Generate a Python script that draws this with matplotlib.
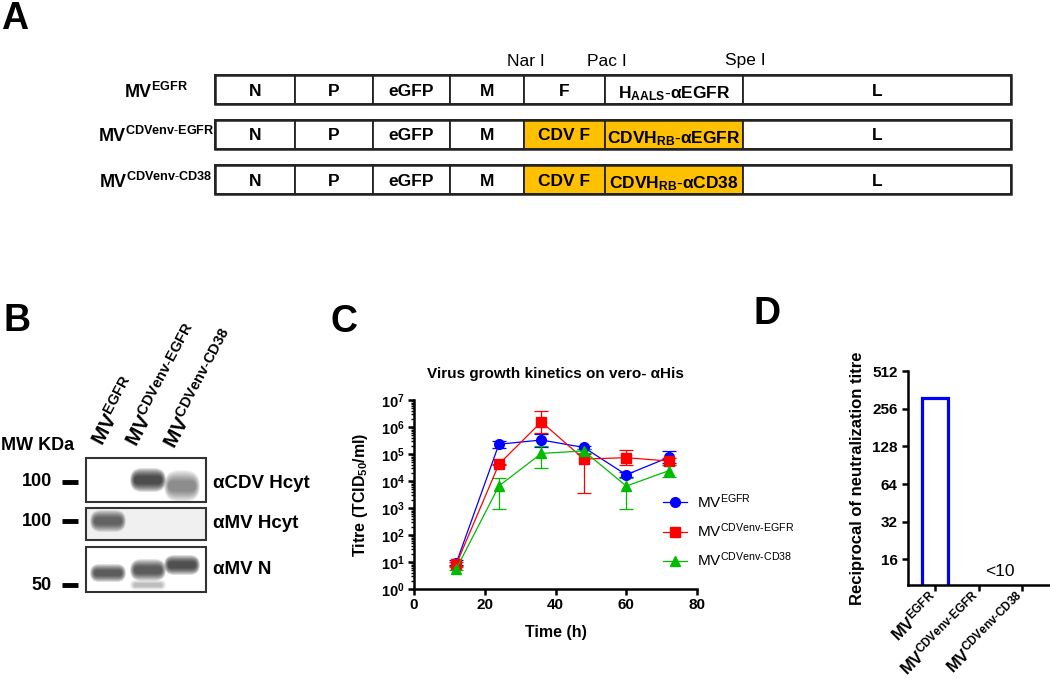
import matplotlib
matplotlib.use('Agg')
import matplotlib.pyplot as plt
from matplotlib.patches import Rectangle, FancyBboxPatch
from matplotlib.lines import Line2D
from matplotlib.ticker import FixedLocator, LogLocator, NullFormatter
import numpy as np

plt.rcParams['font.family'] = ['Liberation Sans', 'DejaVu Sans']
plt.rcParams['mathtext.fontset'] = 'custom'
plt.rcParams['mathtext.rm'] = 'Liberation Sans'
plt.rcParams['mathtext.bf'] = 'Liberation Sans:bold'
plt.rcParams['mathtext.it'] = 'Liberation Sans:italic'

# ---- data ----
# A: genome constructs
construct_names = [r'$\mathbf{MV}^{\mathbf{EGFR}}$',
                   r'$\mathbf{MV}^{\mathbf{CDVenv}\text{-}\mathbf{EGFR}}$',
                   r'$\mathbf{MV}^{\mathbf{CDVenv}\text{-}\mathbf{CD38}}$']
construct_genes = [
    ['N', 'P', 'eGFP', 'M', 'F', r'$\mathbf{H}_{\mathbf{AALS}}\text{-}\mathbf{\alpha EGFR}$', 'L'],
    ['N', 'P', 'eGFP', 'M', 'CDV F', r'$\mathbf{CDVH}_{\mathbf{RB}}\text{-}\mathbf{\alpha EGFR}$', 'L'],
    ['N', 'P', 'eGFP', 'M', 'CDV F', r'$\mathbf{CDVH}_{\mathbf{RB}}\text{-}\mathbf{\alpha CD38}$', 'L'],
]
cdv_env = [False, True, True]
sites = ['Nar I', 'Pac I', 'Spe I']

# B: western blot
lane_names = [r'$\mathbf{MV}^{\mathbf{EGFR}}$',
              r'$\mathbf{MV}^{\mathbf{CDVenv}\text{-}\mathbf{EGFR}}$',
              r'$\mathbf{MV}^{\mathbf{CDVenv}\text{-}\mathbf{CD38}}$']
antibodies = ['\u03b1CDV Hcyt', '\u03b1MV Hcyt', '\u03b1MV N']
mw_marks = ['100', '100', '50']
# (lane, row centre px, darkness, thickness px)
bands = [(1, 480, 1.0, 12), (2, 486, 0.5, 16),
         (0, 521, 0.75, 11),
         (0, 573, 0.85, 9), (1, 570, 0.85, 11), (1, 585, 0.25, 5), (2, 565, 0.95, 10)]

# C: growth kinetics
time_h = [12, 24, 36, 48, 60, 72]
series = ['MV$^{\\mathrm{EGFR}}$', 'MV$^{\\mathrm{CDVenv}\\text{-}\\mathrm{EGFR}}$',
          'MV$^{\\mathrm{CDVenv}\\text{-}\\mathrm{CD38}}$']
egfr = [9.5, 2.3e5, 3.3e5, 1.75e5, 1.7e4, 7.5e4]
egfr_hi = [12, 3.1e5, 5.6e5, 2.0e5, 2.1e4, 1.25e5]
egfr_lo = [7.5, 1.6e5, 1.8e5, 1.5e5, 1.4e4, 4.5e4]
cdv_egfr = [8.5, 4.2e4, 1.55e6, 6.5e4, 7.3e4, 5.5e4]
cdv_egfr_hi = [10, 4.4e4, 3.9e6, 1.0e5, 1.45e5, 7.0e4]
cdv_egfr_lo = [7, 4.0e4, 6.0e5, 3.5e3, 3.8e4, 4.0e4]
cdv_cd38 = [5.7, 6.5e3, 1.05e5, 1.3e5, 6.5e3, 2.4e4]
cdv_cd38_hi = [6.5, 1.3e4, 1.9e5, 1.5e5, 1.3e4, 3.9e4]
cdv_cd38_lo = [5, 9.5e2, 3.1e4, 1.1e5, 9.5e2, 1.4e4]

# D: neutralization
viruses = [r'$\mathbf{MV}^{\mathbf{EGFR}}$',
           r'$\mathbf{MV}^{\mathbf{CDVenv}\text{-}\mathbf{EGFR}}$',
           r'$\mathbf{MV}^{\mathbf{CDVenv}\text{-}\mathbf{CD38}}$']
neut_titre = [310, 1, 1]

fig = plt.figure(figsize=(10.5, 6.83), dpi=100)

# overlay in pixel coordinates for the schematic panels
ax0 = fig.add_axes([0, 0, 1, 1])
ax0.set_xlim(0, 1050)
ax0.set_ylim(683, 0)
ax0.axis('off')

for lab, (x, y) in zip('ABCD', [(1, 29), (3, 331), (330, 332), (753, 324)]):
    ax0.text(x, y, lab, fontsize=27, fontweight='bold', ha='left', va='baseline')

# ---- A ----
edges = [215, 295, 373, 450, 524, 605, 743, 1011]
row_top = [75, 120, 165]
row_h = 29
for r in range(3):
    y0 = row_top[r]
    yc = y0 + row_h / 2
    for g in range(7):
        fc = '#FFC000' if (cdv_env[r] and g in (4, 5)) else 'white'
        ax0.add_patch(Rectangle((edges[g], y0), edges[g + 1] - edges[g], row_h,
                                facecolor=fc, edgecolor='#222222', lw=1.3))
        off = 9 if g == 5 else 6
        ax0.text((edges[g] + edges[g + 1]) / 2, yc + off, construct_genes[r][g],
                 fontsize=12.5, fontweight='bold', ha='center', va='baseline')
    ax0.add_patch(Rectangle((edges[0], y0), edges[-1] - edges[0], row_h,
                            facecolor='none', edgecolor='#222222', lw=1.8))
    ax0.text(156, yc + 8, construct_names[r], fontsize=13, ha='center', va='baseline')
for s, e in zip(sites, [4, 5, 6]):
    ax0.text(edges[e] + 2, 61, s, fontsize=12.5, ha='center', va='center')

# ---- B ----
lane_x = [108, 148, 182]
blot_rows = [(458, 502), (508, 540), (547, 592)]
mw_y = [482, 521, 585]
ab_y = [483, 523, 570]
ax0.add_patch(Rectangle((86, 508), 120, 32, facecolor='#f0f0f0', lw=0))
for lane, yc, dark, h in bands:
    x = lane_x[lane]
    for s in np.linspace(1.0, 0.2, 10):
        w = 36 * (0.7 + 0.3 * s)
        hh = h * (0.3 + 1.7 * s)
        ax0.add_patch(FancyBboxPatch((x - w / 2, yc - hh / 2), w, hh,
                                     boxstyle='round,pad=0,rounding_size=%g' % (hh / 2),
                                     facecolor='black', edgecolor='none', alpha=dark * 0.11))
for (t, b) in blot_rows:
    ax0.add_patch(Rectangle((86, t), 120, b - t, facecolor='none', edgecolor='#333333', lw=1.5))
for m, y in zip(mw_marks, mw_y):
    ax0.text(52, y, m, fontsize=13, fontweight='bold', ha='right', va='center')
    ax0.plot([62, 78], [y, y], color='black', lw=3.5, solid_capstyle='butt')
ax0.text(1, 445, 'MW KDa', fontsize=13, fontweight='bold', ha='left', va='center')
for a, y in zip(antibodies, ab_y):
    ax0.text(213, y, a, fontsize=13.5, fontweight='bold', ha='left', va='center')
for name, (x, y) in zip(lane_names, [(103, 447), (137, 448), (175, 450)]):
    ax0.text(x, y, name, fontsize=15, rotation=62, rotation_mode='anchor',
             ha='left', va='baseline')

# ---- C ----
axc = fig.add_axes([414 / 1050, 1 - 589 / 683, 283 / 1050, 189 / 683])
cols = ['#0000FF', '#FF0000', '#00BB00']
marks = ['o', 's', '^']
handles = []
for ys, hi, lo, c, m, lab in zip([egfr, cdv_egfr, cdv_cd38],
                                 [egfr_hi, cdv_egfr_hi, cdv_cd38_hi],
                                 [egfr_lo, cdv_egfr_lo, cdv_cd38_lo],
                                 cols, marks, series):
    ys = np.array(ys)
    err = [ys - np.array(lo), np.array(hi) - ys]
    axc.errorbar(time_h, ys, yerr=err, color=c, marker=m, markersize=7, lw=0.9,
                 elinewidth=0.9, capsize=5, capthick=0.9, clip_on=False)
    handles.append(Line2D([], [], color=c, marker=m, markersize=7, lw=0.9, label=lab))
axc.set_yscale('log')
axc.set_ylim(1, 1e7)
axc.set_xlim(0, 80)
axc.set_xticks([0, 20, 40, 60, 80])
axc.set_xticklabels(['0', '20', '40', '60', '80'], fontsize=11, fontweight='bold')
axc.yaxis.set_major_locator(FixedLocator([10.0 ** k for k in range(8)]))
axc.set_yticklabels([r'$\mathbf{10^{%d}}$' % k for k in range(8)], fontsize=10.5)
axc.yaxis.set_minor_locator(LogLocator(base=10, subs=np.arange(2, 10), numticks=20))
axc.yaxis.set_minor_formatter(NullFormatter())
for sp in ['top', 'right']:
    axc.spines[sp].set_visible(False)
for sp in ['left', 'bottom']:
    axc.spines[sp].set_linewidth(1.8)
axc.tick_params(which='major', length=4.5, width=1.8, pad=2)
axc.tick_params(which='minor', length=2.5, width=1.0)
axc.set_xlabel('Time (h)', fontsize=11.5, fontweight='bold', labelpad=9)
axc.set_ylabel(r'Titre (TCID$_{\mathbf{50}}$/ml)', fontsize=11.5, fontweight='bold', labelpad=8)
axc.set_title('Virus growth kinetics on vero- \u03b1His', fontsize=11, fontweight='bold', pad=16)
axc.legend(handles=handles, loc='upper left', bbox_to_anchor=(663 / 1050, 1 - 492 / 683),
           bbox_transform=fig.transFigure, frameon=False, fontsize=11,
           handlelength=1.6, handletextpad=0.6, labelspacing=0.7,
           borderpad=0, borderaxespad=0)

# ---- D ----
axd = fig.add_axes([908 / 1050, 1 - 585 / 683, 142 / 1050, 214 / 683])
axd.bar(range(3), neut_titre, width=0.61, bottom=1, facecolor='white',
        edgecolor='#0000FF', lw=2.3)
axd.set_yscale('log', base=2)
axd.set_ylim(10, 512)
axd.set_xlim(-0.62, 2.64)
ticks_d = [16, 32, 64, 128, 256, 512]
axd.yaxis.set_major_locator(FixedLocator(ticks_d))
axd.yaxis.set_minor_locator(FixedLocator([]))
axd.set_yticklabels([str(t) for t in ticks_d], fontsize=11, fontweight='bold')
axd.set_xticks(range(3))
axd.set_xticklabels(viruses, fontsize=12, rotation=45, ha='right', va='center',
                    rotation_mode='anchor')
for sp in ['top', 'right']:
    axd.spines[sp].set_visible(False)
for sp in ['left', 'bottom']:
    axd.spines[sp].set_linewidth(1.8)
axd.tick_params(length=4.5, width=1.8, pad=3)
axd.set_ylabel('Reciprocal of neutralization titre', fontsize=12, fontweight='bold', labelpad=5)
axd.text(1.5, 11.2, '<10', fontsize=12.5, ha='center', va='bottom')

fig.savefig('out.png', dpi=100)
